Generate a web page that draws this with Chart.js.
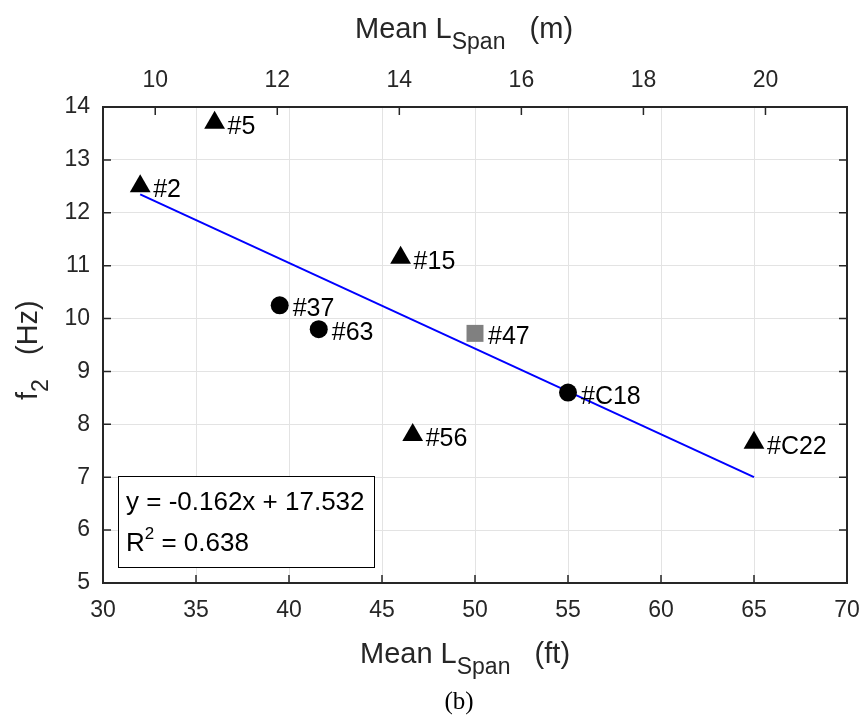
<!DOCTYPE html>
<html>
<head>
<meta charset="utf-8">
<title>f2 vs mean span length</title>
<script src="https://cdn.jsdelivr.net/npm/chart.js@4.4.0/dist/chart.umd.min.js"></script>
<style>
  html, body { margin: 0; padding: 0; background: #fff; }
  #wrap { width: 863px; height: 721px; }
</style>
</head>
<body>
<div id="wrap"><canvas id="chart" width="863" height="721"></canvas></div>
<script>
// bridges by marker type: mean span (ft) and second natural frequency f2 (Hz)
const TRI_NAMES = ['#2', '#5', '#15', '#56', '#C22'];
const TRI_SPAN = [32, 36, 46, 46.65, 65];
const TRI_F2 = [12.5, 13.7, 11.15, 7.8, 7.65];

const CIRC_NAMES = ['#37', '#63', '#C18'];
const CIRC_SPAN = [39.5, 41.6, 55];
const CIRC_F2 = [10.25, 9.8, 8.6];

const SQ_NAMES = ['#47'];
const SQ_SPAN = [50];
const SQ_F2 = [9.72];

// linear fit
const FIT_SLOPE = -0.162;
const FIT_INTERCEPT = 17.532;
const FIT_R2 = 0.638;
const FIT_SPAN = [32, 65];

// axes
const X_TICKS_FT = [30, 35, 40, 45, 50, 55, 60, 65, 70];
const X_TICKS_M = [10, 12, 14, 16, 18, 20];
const Y_TICKS = [5, 6, 7, 8, 9, 10, 11, 12, 13, 14];
const FT_TO_M = 0.3048;

const FONT = '"Liberation Sans", Arial, sans-serif';
const AXIS_COLOR = '#262626';
const GRID_COLOR = '#e3e3e3';
const TICK_LEN = 8;

function toPoints(xs, ys) {
  return xs.map((x, i) => ({ x: x, y: ys[i] }));
}

const fitPoints = FIT_SPAN.map(x => ({ x: x, y: FIT_SLOPE * x + FIT_INTERCEPT }));

// draws a label made of normal / subscript / superscript pieces, left to right
function drawParts(ctx, parts, x, y) {
  parts.forEach(p => {
    ctx.font = p.size + 'px ' + FONT;
    ctx.fillText(p.text, x, y + (p.dy || 0));
    x += ctx.measureText(p.text).width;
  });
}

const pointNames = {
  id: 'pointNames',
  afterDatasetsDraw(chart) {
    const ctx = chart.ctx;
    ctx.save();
    ctx.font = '25px ' + FONT;
    ctx.fillStyle = '#000';
    ctx.textBaseline = 'alphabetic';
    chart.data.datasets.forEach((ds, i) => {
      if (!ds.names) return;
      chart.getDatasetMeta(i).data.forEach((pt, j) => {
        ctx.fillText(ds.names[j], pt.x + 13, pt.y + 11);
      });
    });
    ctx.restore();
  }
};

const frame = {
  id: 'frame',
  afterDraw(chart) {
    const ctx = chart.ctx;
    const a = chart.chartArea;
    const s = chart.scales;
    ctx.save();

    // inward tick marks on all four sides
    ctx.strokeStyle = AXIS_COLOR;
    ctx.lineWidth = 1.5;
    ctx.beginPath();
    X_TICKS_FT.forEach(v => {
      const px = s.x.getPixelForValue(v);
      ctx.moveTo(px, a.bottom);
      ctx.lineTo(px, a.bottom - TICK_LEN);
    });
    X_TICKS_M.forEach(v => {
      const px = s.x2.getPixelForValue(v);
      ctx.moveTo(px, a.top);
      ctx.lineTo(px, a.top + TICK_LEN);
    });
    Y_TICKS.forEach(v => {
      const py = s.y.getPixelForValue(v);
      ctx.moveTo(a.left, py);
      ctx.lineTo(a.left + TICK_LEN, py);
      ctx.moveTo(a.right, py);
      ctx.lineTo(a.right - TICK_LEN, py);
    });
    ctx.stroke();

    ctx.lineWidth = 2;
    ctx.strokeRect(a.left, a.top, a.right - a.left, a.bottom - a.top);

    // fit equation box
    const bx = a.left + 15, by = a.bottom - 107, bw = 256, bh = 91;
    ctx.fillStyle = '#fff';
    ctx.fillRect(bx, by, bw, bh);
    ctx.lineWidth = 1;
    ctx.strokeStyle = '#000';
    ctx.strokeRect(bx + 0.5, by + 0.5, bw, bh);
    ctx.fillStyle = '#000';
    ctx.textBaseline = 'alphabetic';
    ctx.textAlign = 'left';
    const eq = 'y = ' + FIT_SLOPE.toFixed(3) + 'x + ' + FIT_INTERCEPT.toFixed(3);
    drawParts(ctx, [{ text: eq, size: 26 }], bx + 8, by + 34);
    drawParts(ctx, [
      { text: 'R', size: 26 },
      { text: '2', size: 17, dy: -12 },
      { text: ' = ' + FIT_R2.toFixed(3), size: 26 }
    ], bx + 8, by + 75);

    // axis titles
    ctx.fillStyle = AXIS_COLOR;
    drawParts(ctx, [
      { text: 'Mean L', size: 29 },
      { text: 'Span', size: 23, dy: 11 },
      { text: '   (ft)', size: 29 }
    ], a.left + 257, 663);
    drawParts(ctx, [
      { text: 'Mean L', size: 29 },
      { text: 'Span', size: 23, dy: 11 },
      { text: '   (m)', size: 29 }
    ], a.left + 252, 38);

    ctx.save();
    ctx.translate(37, a.bottom - 183);
    ctx.rotate(-Math.PI / 2);
    drawParts(ctx, [
      { text: 'f', size: 29 },
      { text: '2', size: 23, dy: 11 },
      { text: '   (Hz)', size: 29 }
    ], 0, 0);
    ctx.restore();

    // panel tag
    ctx.fillStyle = '#000';
    ctx.font = '25px "Liberation Serif", "Times New Roman", serif';
    ctx.textAlign = 'center';
    ctx.fillText('(b)', 459, 709);

    ctx.restore();
  }
};

const tickFont = { family: FONT, size: 23 };

// fixed scale sizes so the plot box lands at left 103, top 107, right 847, bottom 583
function fixHorizontal(height) {
  return sc => {
    sc.height = height;
    sc.paddingLeft = 0;
    sc.paddingRight = 0;
  };
}

new Chart(document.getElementById('chart'), {
  type: 'scatter',
  data: {
    datasets: [
      {
        data: toPoints(TRI_SPAN, TRI_F2),
        names: TRI_NAMES,
        pointStyle: 'triangle',
        pointRadius: 12,
        backgroundColor: '#000',
        borderWidth: 0
      },
      {
        data: toPoints(CIRC_SPAN, CIRC_F2),
        names: CIRC_NAMES,
        pointStyle: 'circle',
        pointRadius: 9,
        backgroundColor: '#000',
        borderWidth: 0
      },
      {
        data: toPoints(SQ_SPAN, SQ_F2),
        names: SQ_NAMES,
        pointStyle: 'rect',
        pointRadius: 12,
        backgroundColor: '#808080',
        borderWidth: 0
      },
      {
        type: 'line',
        data: fitPoints,
        showLine: true,
        borderColor: '#0000ff',
        borderWidth: 2,
        pointRadius: 0,
        fill: false,
        order: 1
      }
    ]
  },
  options: {
    responsive: false,
    animation: false,
    events: [],
    layout: { padding: { left: 0, right: 16, top: 0, bottom: 0 } },
    plugins: {
      legend: { display: false },
      tooltip: { enabled: false }
    },
    scales: {
      x: {
        type: 'linear',
        position: 'bottom',
        min: 30,
        max: 70,
        afterBuildTicks: sc => { sc.ticks = X_TICKS_FT.map(v => ({ value: v })); },
        afterFit: fixHorizontal(138),
        ticks: { font: tickFont, color: AXIS_COLOR, padding: 14, maxRotation: 0 },
        grid: { color: GRID_COLOR, lineWidth: 1, drawTicks: false },
        border: { display: false }
      },
      x2: {
        type: 'linear',
        position: 'top',
        min: 30 * FT_TO_M,
        max: 70 * FT_TO_M,
        afterBuildTicks: sc => { sc.ticks = X_TICKS_M.map(v => ({ value: v })); },
        afterFit: fixHorizontal(107),
        ticks: { font: tickFont, color: AXIS_COLOR, padding: 13, maxRotation: 0 },
        grid: { display: false, drawTicks: false },
        border: { display: false }
      },
      y: {
        type: 'linear',
        position: 'left',
        min: 5,
        max: 14,
        afterBuildTicks: sc => { sc.ticks = Y_TICKS.map(v => ({ value: v })); },
        afterFit: sc => { sc.width = 103; },
        ticks: { font: tickFont, color: AXIS_COLOR, padding: 13 },
        grid: { color: GRID_COLOR, lineWidth: 1, drawTicks: false },
        border: { display: false }
      }
    }
  },
  plugins: [pointNames, frame]
});
</script>
</body>
</html>
